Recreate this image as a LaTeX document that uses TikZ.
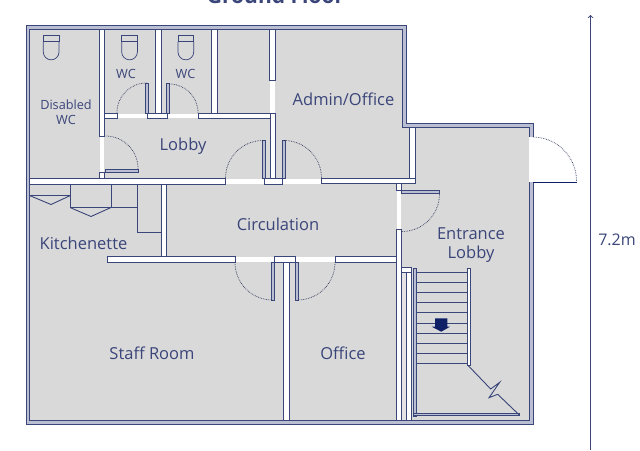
\documentclass[tikz,border=0pt]{standalone}
\usepackage{fontspec}
\setmainfont{Open Sans}
\definecolor{navy}{HTML}{3A4579}
\definecolor{darknavy}{HTML}{0F1F66}
\definecolor{floorgray}{HTML}{D9D9D9}
\definecolor{leafblue}{HTML}{B9BED3}
\tikzset{
  wall/.style={draw=navy, fill=white, line width=0.9pt},
  gap/.style={fill=white},
  leaf/.style={draw=navy, fill=leafblue, line width=0.8pt},
  swing/.style={draw=navy!70!black, densely dotted, line width=0.7pt},
  thin/.style={draw=navy, line width=0.9pt},
  room/.style={text=navy, font=\fontsize{16.5}{19}\selectfont, align=center},
  smallroom/.style={text=navy, font=\fontsize{12.7}{15}\selectfont, align=center}
}
\begin{document}
\begin{tikzpicture}[x=1pt,y=-1pt]
  \useasboundingbox (0,0) rectangle (640,450);
  \node[text=navy, font=\bfseries\fontsize{21}{24}\selectfont] (title) at (275.5,-4.5) {Ground Floor};
  % outer wall and floor
  \draw[wall, fill=leafblue] (26,25.5) -- (406,25.5) -- (406,123.5) -- (533,123.5) -- (533,424) -- (26,424) -- cycle;
  \draw[draw=navy, fill=floorgray, line width=0.9pt] (29.7,29.7) -- (402.5,29.7) -- (402.5,127) -- (529.5,127) -- (529.5,420) -- (29.7,420) -- cycle;
  % inner walls
  \draw[wall] (99.5,29.7) rectangle (104.4,136);
  \draw[wall] (99.5,172) rectangle (104.4,178.5);
  \draw[wall] (155.5,29.7) rectangle (161,113);
  \draw[wall] (211.5,29.7) rectangle (217.5,113);
  \draw[wall] (269.5,29.7) rectangle (275,80.5);
  \draw[wall] (270,113) rectangle (275.7,178);
  \draw[wall] (104.4,113) rectangle (117,118);
  \draw[wall] (147.5,113) rectangle (167,118);
  \draw[wall] (198,113) rectangle (270,118);
  \draw[wall] (29.7,178.5) rectangle (225.5,184);
  \draw[wall] (264.5,178.5) rectangle (282.5,184);
  \draw[wall] (321.7,178) rectangle (415.5,183.5);
  \draw[wall] (409.5,127) rectangle (415.5,178);
  \draw[wall] (396.5,183.5) rectangle (401.5,190.5);
  \draw[wall] (396.5,229.7) rectangle (401.7,420);
  \draw[wall] (161,184) rectangle (166.3,256.7);
  \draw[wall] (107.7,256.7) rectangle (235,262.2);
  \draw[wall] (274,256.7) rectangle (295.7,262.2);
  \draw[wall] (335,256.7) rectangle (396.5,262.2);
  \draw[wall] (283.7,262.2) rectangle (289.7,420);
  \draw[wall] (401.7,267) rectangle (411.3,272.3);
  \draw[wall, fill=floorgray!70!white] (401.7,272.3) rectangle (406.7,420);
  \draw[wall] (406.7,272.3) rectangle (411.3,420);
  % door openings
  \fill[gap] (117.5,113.5) rectangle (147,118);
  \fill[gap] (167.5,113.5) rectangle (197.5,118);
  \fill[gap] (99.9,136.5) rectangle (104.3,171.5);
  \fill[gap] (269.9,81) rectangle (275,112.5);
  \fill[gap] (226,179) rectangle (264,184);
  \fill[gap] (283,179) rectangle (321.2,184);
  \fill[gap] (235.5,257) rectangle (273.5,262);
  \fill[gap] (296.2,257) rectangle (334.5,262);
  \fill[gap] (396.9,191) rectangle (401.4,229.2);
  \fill[gap] (528.8,136.5) rectangle (534,182);
  % door leaves
  \draw[leaf] (145.5,83) rectangle (148.7,113);
  \draw[leaf] (166.5,83) rectangle (169.7,113);
  \draw[leaf] (105,169.5) rectangle (138,172.5);
  \draw[leaf] (262,140) rectangle (265.3,178.5);
  \draw[leaf] (282.3,140) rectangle (285.5,178.5);
  \draw[leaf] (271,262.2) rectangle (274.5,300.3);
  \draw[leaf] (295.5,262.2) rectangle (298.7,300.3);
  \draw[leaf] (401.7,190.3) rectangle (439.5,193.5);
  \draw[darknavy, line width=1.8pt] (533,182.5) -- (576.5,182.5);
  % door swings
  \draw[swing] (117,112.5) arc[start angle=180, end angle=270, radius=29.5];
  \draw[swing] (198,112.5) arc[start angle=0, end angle=-90, radius=28.5];
  \draw[swing] (138,168.5) arc[start angle=0, end angle=-90, radius=32.5];
  \draw[swing] (225.5,178) arc[start angle=180, end angle=270, radius=37.5];
  \draw[swing] (321.5,178) arc[start angle=0, end angle=-90, radius=37.5];
  \draw[swing] (235,262.5) arc[start angle=180, end angle=90, radius=37.5];
  \draw[swing] (335,262.5) arc[start angle=0, end angle=90, radius=37.5];
  \draw[swing] (439.5,194) arc[start angle=0, end angle=90, radius=37.5];
  \draw[swing] (576.5,181) arc[start angle=0, end angle=-90, radius=44];
  % kitchenette units
  \draw[thin] (137,184) -- (137,232.5) -- (161,232.5);
  \draw[thin] (70,184) -- (70,207.5) -- (137,207.5);
  \draw[thin] (111,184) -- (111,207.5);
  \draw[thin] (30,195.7) -- (70,195.7);
  \draw[thin] (30,195.7) -- (51,204.5) -- (70,195.7);
  \draw[thin] (70,207.5) -- (91,216.5) -- (111,207.5);
  % toilets
  \foreach \tx in {43.3,121.7,178}{
    \draw[thin, line width=0.7pt] (\tx,35.5) rectangle (\tx+15.7,41.5);
    \draw[thin, line width=0.7pt] (\tx,41.5) -- (\tx,52) arc[start angle=180, end angle=0, radius=7.85] -- (\tx+15.7,41.5);
  }
  % stairs
  \foreach \ty in {0,...,9}{
    \draw[thin] (416,272.7+10.05*\ty) -- (467,272.7+10.05*\ty);
  }
  \draw[leaf] (413.3,268.3) rectangle (416.3,416);
  \draw[leaf] (413.3,413.3) -- (519.5,413.3) -- (519.5,415.5) -- (413.3,415.5) -- cycle;
  \draw[wall, line width=0.7pt] (467,268.3) rectangle (470,365.7);
  \draw[thin] (468.3,365.7) -- (490.7,389) -- (499.7,382.3) -- (489,397.7) -- (497.7,394.3) -- (519.3,415);
  \fill[darknavy] (435,318.3) -- (447.3,318.3) -- (447.3,326.7) -- (450,326.7) -- (441.3,331.7) -- (431.7,326.7) -- (435,326.7) -- cycle;
  % overall dimension
  \coordinate (dimtop) at (590.5,15);
  \coordinate (dimbot) at (590.5,450);
  \draw[->, >=to, navy, line width=1pt] (dimbot) -- (dimtop);
  \node[text=navy, font=\fontsize{16}{18}\selectfont] (dimlabel) at (617,240) {7.2m};
  % room labels
  \node[smallroom] (disabled) at (66,112.5) {Disabled\\WC};
  \node[smallroom] (wcone) at (126,74) {WC};
  \node[smallroom] (wctwo) at (185.5,74) {WC};
  \node[room] (admin) at (343.5,99) {Admin/Office};
  \node[room] (lobby) at (183,146) {Lobby};
  \node[room] (circulation) at (278,224) {Circulation};
  \node[room] (kitchenette) at (83.5,243) {Kitchenette};
  \node[room] (entrance) at (471,245) {Entrance\\Lobby};
  \node[room] (staff) at (152,353) {Staff Room};
  \node[room] (office) at (343,353) {Office};
\end{tikzpicture}
\end{document}
